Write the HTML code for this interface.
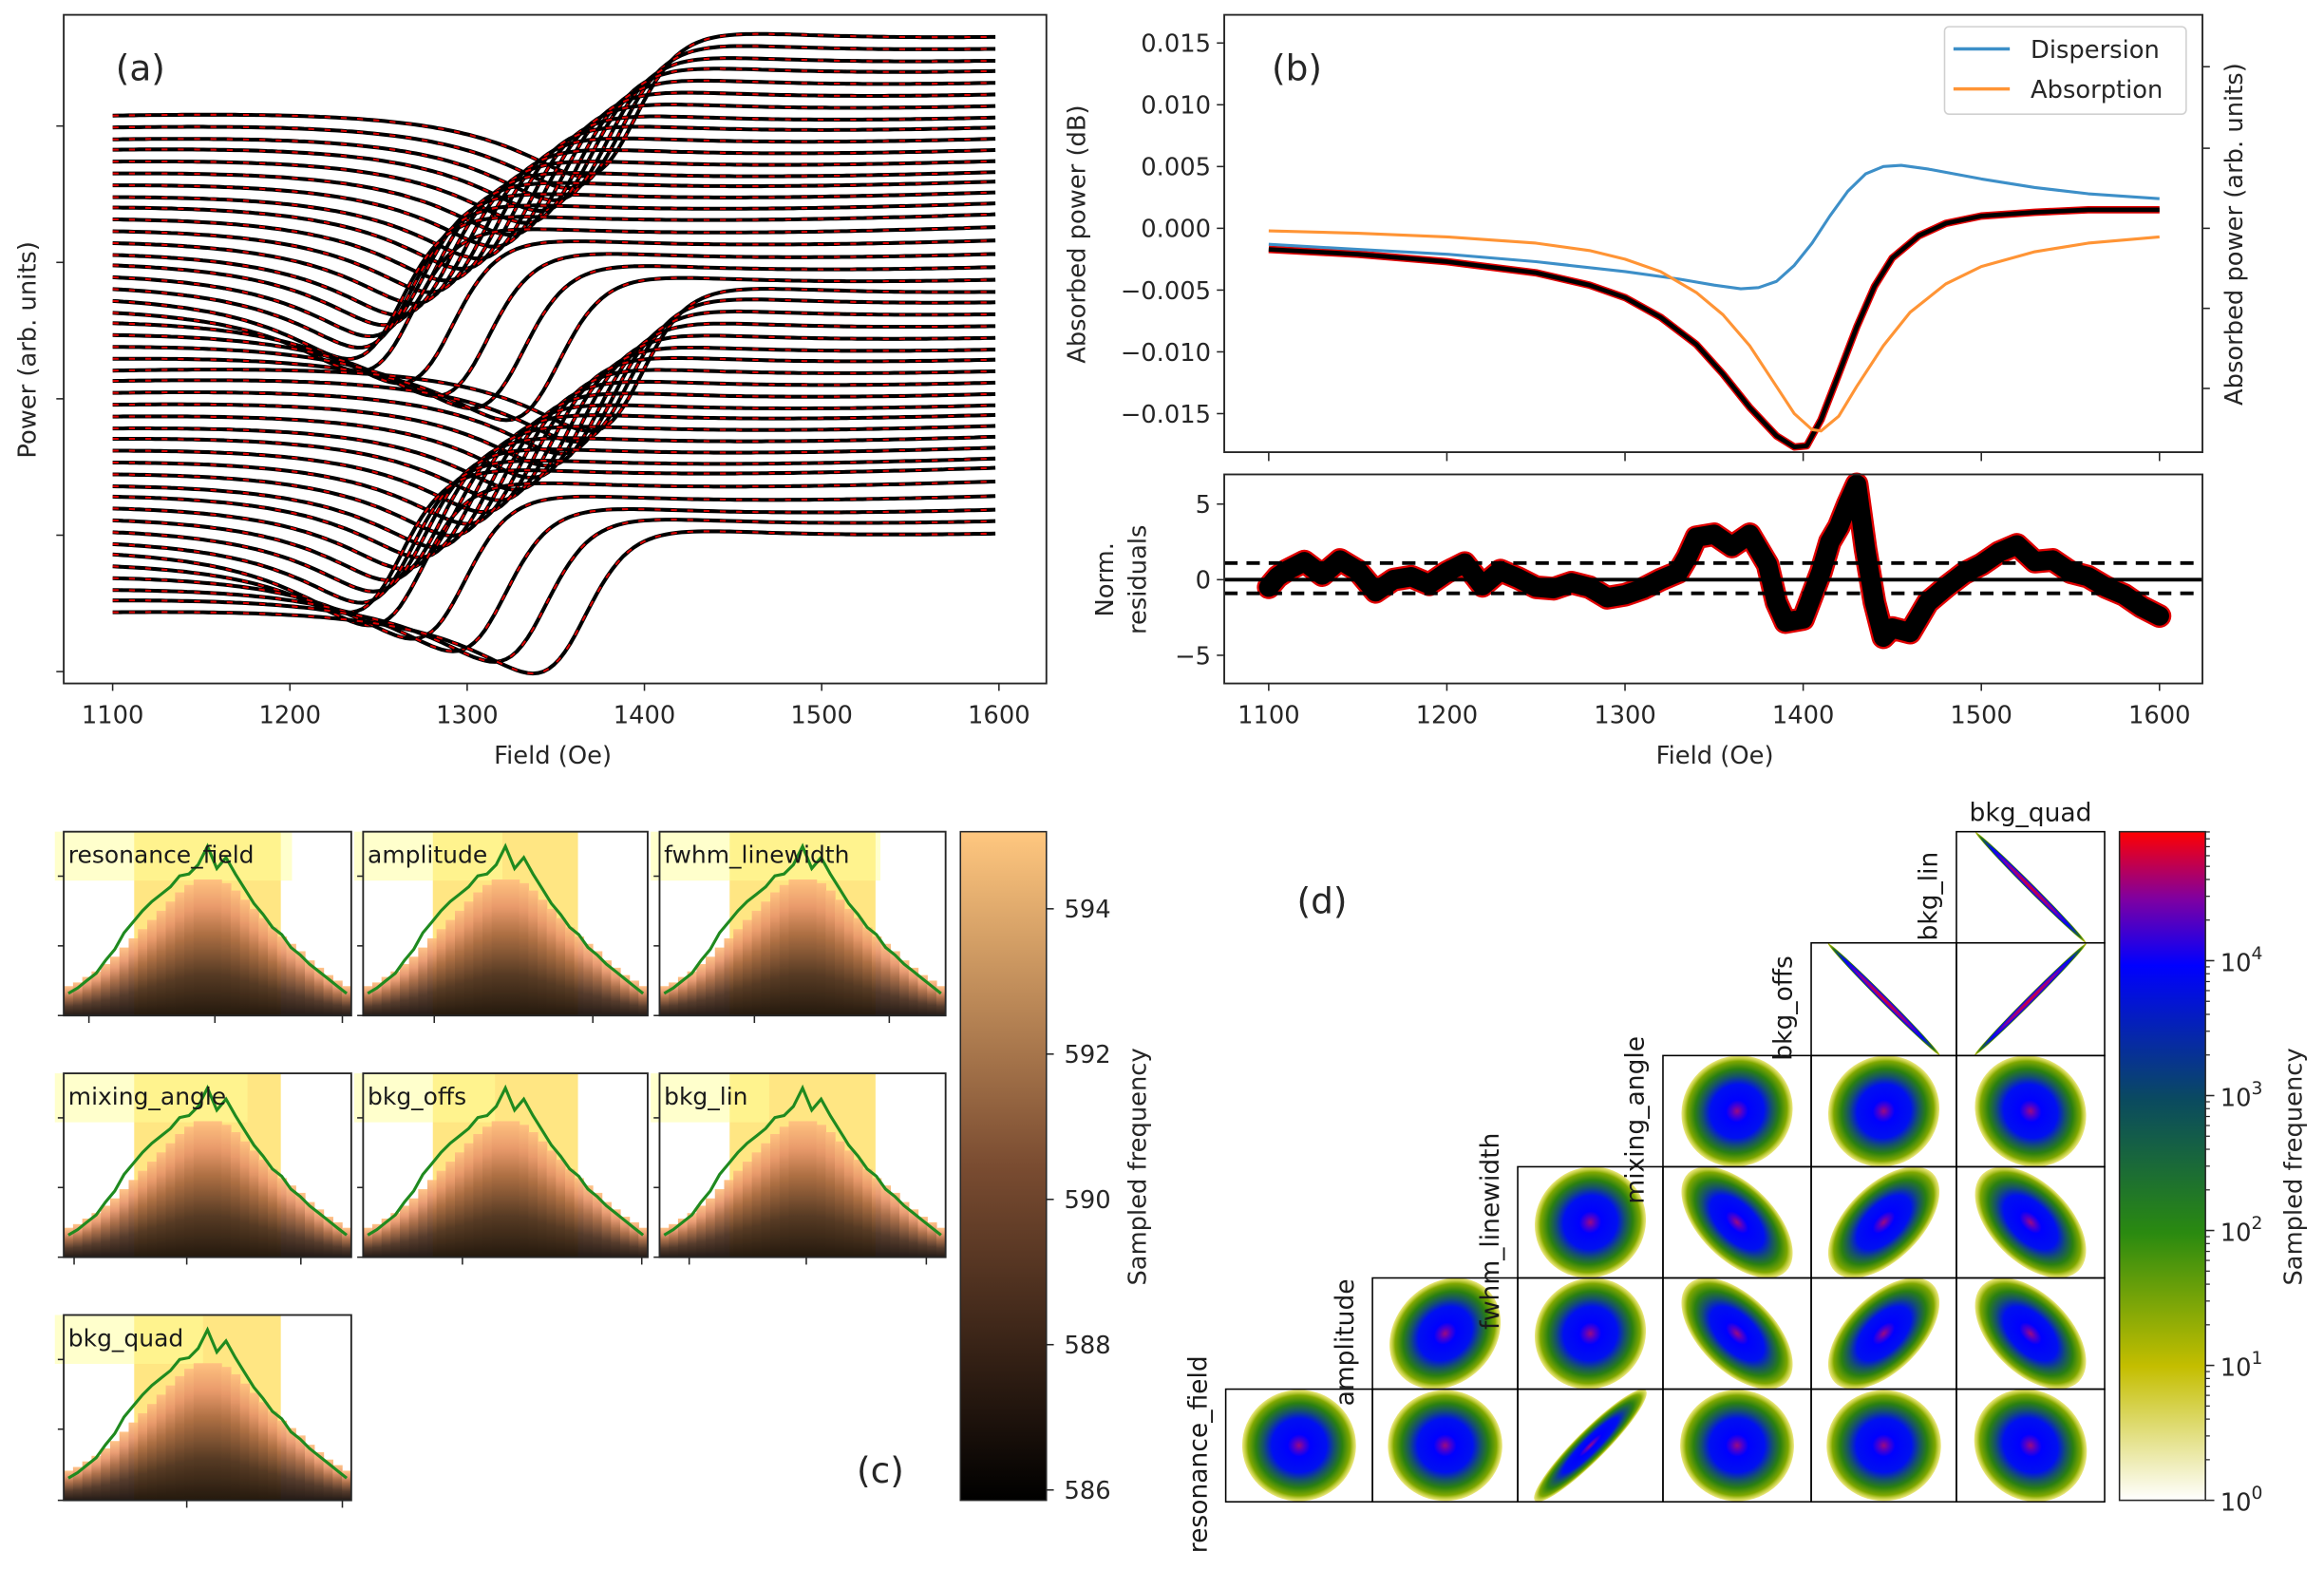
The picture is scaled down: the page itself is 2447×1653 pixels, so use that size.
<!DOCTYPE html>
<html><head><meta charset="utf-8"><style>
html,body{margin:0;padding:0;background:#fff;}
svg{display:block;font-family:"DejaVu Sans","Liberation Sans",sans-serif;}
</style></head><body>
<svg id="fig" xmlns="http://www.w3.org/2000/svg" width="2447" height="1653" viewBox="0 0 1568 1059" preserveAspectRatio="none">
<defs>
<linearGradient id="copperG" x1="0" y1="1" x2="0" y2="0">
<stop offset="0" stop-color="#140a05"/><stop offset="0.3" stop-color="#4a2e1d"/><stop offset="0.6" stop-color="#a8673f"/><stop offset="0.8" stop-color="#e8956a"/><stop offset="1" stop-color="#ffc080"/></linearGradient>
<linearGradient id="copperBar" x1="0" y1="1" x2="0" y2="0">
<stop offset="0" stop-color="#000"/><stop offset="0.5" stop-color="#7a4c31"/><stop offset="1" stop-color="#ffc77f"/></linearGradient>
<linearGradient id="rainbowBar" x1="0" y1="1" x2="0" y2="0">
<stop offset="0" stop-color="#ffffff"/><stop offset="0.2" stop-color="#c4be00"/><stop offset="0.4" stop-color="#2a8a10"/><stop offset="0.6" stop-color="#0a4a60"/><stop offset="0.8" stop-color="#0000ff"/><stop offset="0.9" stop-color="#8000a0"/><stop offset="1" stop-color="#ff0000"/></linearGradient>
<radialGradient id="blob" cx="0.5" cy="0.5" r="0.5">
<stop offset="0" stop-color="#9a0a80"/><stop offset="0.1" stop-color="#4a00d0"/><stop offset="0.2" stop-color="#0000ff"/><stop offset="0.48" stop-color="#0010f0"/><stop offset="0.62" stop-color="#145070"/><stop offset="0.76" stop-color="#2a8010"/><stop offset="0.9" stop-color="#80a800"/><stop offset="1" stop-color="#d8d000" stop-opacity="0.5"/></radialGradient>
<radialGradient id="blobThin" cx="0.5" cy="0.5" r="0.5">
<stop offset="0" stop-color="#e00020"/><stop offset="0.45" stop-color="#8000a0"/><stop offset="0.7" stop-color="#0000ff"/><stop offset="0.9" stop-color="#1a7020"/><stop offset="1" stop-color="#c0c000"/></radialGradient>
</defs>
</svg>
<script>
const NS='http://www.w3.org/2000/svg';
const svg=document.getElementById('fig');
function mk(tag,attrs,name,parent){
  const el=document.createElementNS(NS,tag);
  for(const k in attrs) el.setAttribute(k,attrs[k]);
  
  
  (parent||svg).appendChild(el);
  return el;
}
function txt(x,y,s,size,name,extra){
  const a=Object.assign({x:x,y:y,'font-size':size,fill:'#262626'},extra||{});
  const t=mk('text',a,name);
  t.textContent=s;
  return t;
}

/* ---------------- Panel (a) data ---------------- */
const aResonance=[1388,1380,1372,1364,1356,1347,1338,1329,1320,1311,1302,1293,1284,1276,1268,1262,1256,1262,1285,1305,1325,1345,
                  1392,1384,1376,1368,1359,1350,1341,1332,1323,1314,1305,1296,1287,1278,1270,1263,1256,1268,1292,1315,1338,1360];
const aStartLevel=[78,86,94,101,109,117,125,133,140,148,156,164,172,179,187,195,203,211,218,226,234,242,
                   250,257,265,273,281,289,296,304,312,320,328,335,343,351,359,367,374,382,390,398,405,413];
const aFieldTicks=[1100,1200,1300,1400,1500,1600];
const aAmp=90, aWidth=38;

/* ---------------- Panel (b) data ---------------- */
const bFieldMeas=[1100,1150,1200,1250,1280,1300,1320,1340,1355,1370,1385,1395,1402,1410,1420,1430,1440,1450,1465,1480,1500,1530,1560,1600];
const bMeas=[-0.0017,-0.0021,-0.0027,-0.0036,-0.0046,-0.0056,-0.0072,-0.0094,-0.0118,-0.0145,-0.0168,-0.0177,-0.0176,-0.0155,-0.0118,-0.0080,-0.0047,-0.0024,-0.0006,0.0004,0.0010,0.0013,0.0015,0.0015];
const bFieldDisp=[1100,1150,1200,1250,1300,1330,1350,1365,1375,1385,1395,1405,1415,1425,1435,1445,1455,1470,1500,1530,1560,1600];
const bDisp=[-0.0013,-0.0017,-0.0021,-0.0027,-0.0035,-0.0041,-0.0046,-0.0049,-0.0048,-0.0043,-0.0030,-0.0012,0.0010,0.0030,0.0044,0.0050,0.0051,0.0048,0.0040,0.0033,0.0028,0.0024];
const bFieldAbs=[1100,1150,1200,1250,1280,1300,1320,1340,1355,1370,1385,1395,1405,1410,1420,1430,1445,1460,1480,1500,1530,1560,1600];
const bAbs=[-0.0002,-0.0004,-0.0007,-0.0012,-0.0018,-0.0025,-0.0035,-0.0052,-0.0070,-0.0095,-0.0128,-0.0150,-0.0163,-0.0164,-0.0152,-0.0128,-0.0095,-0.0068,-0.0045,-0.0031,-0.0019,-0.0012,-0.0007];
const bYTicks=[0.015,0.010,0.005,0.000,-0.005,-0.010,-0.015];
const bYTickLabels=['0.015','0.010','0.005','0.000','\u22120.005','\u22120.010','\u22120.015'];
const rField=[1100,1105,1110,1120,1130,1140,1150,1160,1170,1180,1190,1200,1210,1220,1230,1240,1250,1260,1270,1280,1290,1300,1310,1320,1330,1335,1340,1350,1360,1370,1380,1385,1390,1400,1410,1415,1420,1425,1430,1435,1440,1445,1450,1460,1470,1480,1490,1500,1510,1520,1530,1540,1550,1560,1570,1580,1590,1600];
const rVal=[-0.5,0.2,0.6,1.2,0.3,1.3,0.6,-0.8,0,0.2,-0.3,0.5,1.1,-0.4,0.6,0.1,-0.5,-0.6,-0.2,-0.5,-1.2,-1.0,-0.6,0,0.5,1.5,2.8,3.0,2.2,3.0,1.0,-1.5,-2.8,-2.6,0.5,2.5,3.5,5.0,6.3,2.0,-1.5,-3.8,-3.2,-3.5,-1.5,-0.5,0.4,1.0,1.8,2.3,1.2,1.3,0.5,0.2,-0.5,-1.0,-1.8,-2.4];
const rYTicks=[5,0,-5];
const rYTickLabels=['5','0','\u22125'];

/* ---------------- Panel (c) data ---------------- */
const cParams=['resonance_field','amplitude','fwhm_linewidth','mixing_angle','bkg_offs','bkg_lin','bkg_quad'];
const cBins=[0.16,0.18,0.21,0.24,0.28,0.32,0.37,0.42,0.47,0.52,0.57,0.62,0.67,0.71,0.74,0.74,0.74,0.72,0.68,0.63,0.58,0.53,0.48,0.43,0.39,0.35,0.30,0.26,0.22,0.19,0.16];
const cGreen=[0.12,0.15,0.19,0.23,0.30,0.36,0.45,0.51,0.57,0.62,0.66,0.70,0.76,0.77,0.82,0.92,0.80,0.86,0.77,0.69,0.61,0.55,0.48,0.44,0.37,0.33,0.28,0.24,0.20,0.16,0.12];
const cBarTicks=[586,588,590,592,594];

/* ---------------- Panel (d) data ---------------- */
const dParams=['resonance_field','amplitude','fwhm_linewidth','mixing_angle','bkg_offs','bkg_lin'];
const dCorr=[[0.02,0.03,0.93,0.02,0.03,-0.1],
             [null,0.2,0.05,-0.55,0.55,-0.5],
             [null,null,0.05,-0.55,0.55,-0.5],
             [null,null,null,0.05,0.05,-0.08],
             [null,null,null,null,-0.998,0.998],
             [null,null,null,null,null,-0.998]];
const dBarExps=[0,1,2,3,4];

/* ===== Panel (a) ===== */
const aL=43,aR=706,aT=10,aB=461;
const xA=h=>76+(h-1100)*(674-76)/500;
mk('rect',{x:aL,y:aT,width:aR-aL,height:aB-aT,fill:'none',stroke:'#262626','stroke-width':1.2},'panel-a-frame');
const gA=mk('g',{},'panel-a-traces');
for(let i=0;i<aResonance.length;i++){
  const Hr=aResonance[i];
  const off=(h)=>{const x=h-Hr;const D=aWidth*x/(x*x+aWidth*aWidth);const L=aWidth*aWidth/(x*x+aWidth*aWidth);return aAmp*(0.87*D-0.5*L);};
  const o0=off(1100);
  let pts=[];
  for(let h=1100;h<=1600;h+=3){
    const y=aStartLevel[i]-30*(h-1100)/500-(off(h)-o0);
    pts.push(xA(h).toFixed(1)+','+y.toFixed(1));
  }
  const p=pts.join(' ');
  const l1=mk('polyline',{points:p,fill:'none',stroke:'#000','stroke-width':2.6,'stroke-linejoin':'round'},'data-trace',gA);
  
  const l2=mk('polyline',{points:p,fill:'none',stroke:'#e00000','stroke-width':1.3,'stroke-dasharray':'4 7'},'fit-trace',gA);
  
}
aFieldTicks.forEach(t=>{
  mk('line',{x1:xA(t),x2:xA(t),y1:aB,y2:aB+5,stroke:'#262626','stroke-width':1},'x-tick-a');
  txt(xA(t),aB+27,String(t),16.5,'x-tick-label-a',{'text-anchor':'middle'});
});
[85,177,269,361,453].forEach(y=>mk('line',{x1:aL-5,x2:aL,y1:y,y2:y,stroke:'#262626','stroke-width':1},'y-tick-a'));
txt(373,515,'Field (Oe)',16.5,'x-axis-title-a',{'text-anchor':'middle'});
txt(0,0,'Power (arb. units)',16.5,'y-axis-title-a',{'text-anchor':'middle',transform:'translate(24,236) rotate(-90)'});
txt(78,54,'(a)',24,'panel-label-a');

/* ===== Panel (b) ===== */
const bL=826,bR=1486,bT=10,bB=305;
const xB=h=>856+(h-1100)*(1457-856)/500;
const yB=v=>154-v*8333;
const poly=(xs,ys,fx,fy)=>xs.map((x,i)=>fx(x).toFixed(1)+','+fy(ys[i]).toFixed(1)).join(' ');
mk('polyline',{points:poly(bFieldMeas,bMeas,xB,yB),fill:'none',stroke:'#e00000','stroke-width':5,'stroke-linejoin':'round'},'fit-curve-b');
mk('polyline',{points:poly(bFieldMeas,bMeas,xB,yB),fill:'none',stroke:'#000','stroke-width':3,'stroke-linejoin':'round'},'measured-curve-b');
mk('polyline',{points:poly(bFieldDisp,bDisp,xB,yB),fill:'none',stroke:'#3d8fc8','stroke-width':2,'stroke-linejoin':'round'},'dispersion-curve');
mk('polyline',{points:poly(bFieldAbs,bAbs,xB,yB),fill:'none',stroke:'#ff9435','stroke-width':2,'stroke-linejoin':'round'},'absorption-curve');
mk('rect',{x:bL,y:bT,width:bR-bL,height:bB-bT,fill:'none',stroke:'#262626','stroke-width':1.2},'panel-b-frame');
bYTicks.forEach((v,i)=>{
  mk('line',{x1:bL-5,x2:bL,y1:yB(v),y2:yB(v),stroke:'#262626','stroke-width':1},'y-tick-b');
  txt(bL-9,yB(v)+6,bYTickLabels[i],16.5,'y-tick-label-b',{'text-anchor':'end'});
});
[45,100,154,208,262].forEach(y=>mk('line',{x1:bR,x2:bR+5,y1:y,y2:y,stroke:'#262626','stroke-width':1},'right-y-tick-b'));
aFieldTicks.forEach(t=>mk('line',{x1:xB(t),x2:xB(t),y1:bB,y2:bB+6,stroke:'#262626','stroke-width':1},'x-tick-b'));
txt(0,0,'Absorbed power (dB)',16.5,'y-axis-title-b',{'text-anchor':'middle',transform:'translate(732,158) rotate(-90)'});
txt(0,0,'Absorbed power (arb. units)',16.5,'right-y-axis-title-b',{'text-anchor':'middle',transform:'translate(1513,158) rotate(-90)'});
txt(858,54,'(b)',24,'panel-label-b');
const leg=mk('g',{},'legend-b');
mk('rect',{x:1312,y:18,width:163,height:59,rx:3,fill:'#fff','fill-opacity':0.85,stroke:'#d0d0d0','stroke-width':1},'legend-frame',leg);
mk('line',{x1:1318,x2:1356,y1:33,y2:33,stroke:'#3d8fc8','stroke-width':2.2},'legend-swatch-dispersion',leg);
mk('line',{x1:1318,x2:1356,y1:60,y2:60,stroke:'#ff9435','stroke-width':2.2},'legend-swatch-absorption',leg);
txt(1370,39,'Dispersion',16.5,'legend-label-dispersion');
txt(1370,66,'Absorption',16.5,'legend-label-absorption');

/* residuals */
const rL=826,rR=1486,rT=320,rB=461;
const yR=v=>391-v*10.2;
mk('polyline',{points:poly(rField,rVal,xB,yR),fill:'none',stroke:'#e00000','stroke-width':16,'stroke-linejoin':'round','stroke-linecap':'round'},'residual-outline');
mk('polyline',{points:poly(rField,rVal,xB,yR),fill:'none',stroke:'#000','stroke-width':13,'stroke-linejoin':'round','stroke-linecap':'round'},'residual-points');
mk('line',{x1:rL,x2:rR,y1:yR(0),y2:yR(0),stroke:'#000','stroke-width':2.5},'zero-line');
mk('line',{x1:rL,x2:rR,y1:yR(1.1),y2:yR(1.1),stroke:'#000','stroke-width':2.5,'stroke-dasharray':'9 6'},'upper-sigma-line');
mk('line',{x1:rL,x2:rR,y1:yR(-0.9),y2:yR(-0.9),stroke:'#000','stroke-width':2.5,'stroke-dasharray':'9 6'},'lower-sigma-line');
mk('rect',{x:rL,y:rT,width:rR-rL,height:rB-rT,fill:'none',stroke:'#262626','stroke-width':1.2},'residual-frame');
rYTicks.forEach((v,i)=>{
  mk('line',{x1:rL-5,x2:rL,y1:yR(v),y2:yR(v),stroke:'#262626','stroke-width':1},'y-tick-r');
  txt(rL-9,yR(v)+6,rYTickLabels[i],16.5,'y-tick-label-r',{'text-anchor':'end'});
});
aFieldTicks.forEach(t=>{
  mk('line',{x1:xB(t),x2:xB(t),y1:rB,y2:rB+5,stroke:'#262626','stroke-width':1},'x-tick-r');
  txt(xB(t),rB+27,String(t),16.5,'x-tick-label-r',{'text-anchor':'middle'});
});
txt(1157,515,'Field (Oe)',16.5,'x-axis-title-b',{'text-anchor':'middle'});
txt(0,0,'Norm.',16.5,'y-axis-title-r1',{'text-anchor':'middle',transform:'translate(751,391) rotate(-90)'});
txt(0,0,'residuals',16.5,'y-axis-title-r2',{'text-anchor':'middle',transform:'translate(773,391) rotate(-90)'});

/* ===== Panel (c) ===== */
const cCols=[[43,237],[245,437],[445,638]];
const cRows=[[561,685],[724,848],[887,1012]];
const cLabelW=[160,100,155,130,95,80,100];
const cBottomTicks=[[60,145,231],[293,400],[509,600],[50,126,203],[312,433],[465,544,625],[126,231]];
cParams.forEach((name,k)=>{
  const col=k%3,row=Math.floor(k/3);
  const L=cCols[col][0],R=cCols[col][1],T=cRows[row][0],B=cRows[row][1];
  const W=R-L,H=B-T;
  const g=mk('g',{},'hist-'+name);
  mk('rect',{x:L+W*0.245,y:T,width:W*0.51,height:H,fill:'#ffd630','fill-opacity':0.6},'credible-interval-band',g);
  mk('rect',{x:L-6,y:T,width:cLabelW[k],height:33,fill:'#ffff99','fill-opacity':0.5},'label-box',g);
  const n=cBins.length,bw=W/n;
  const gb=mk('g',{opacity:0.93},'hist-bars',g);
  cBins.forEach((v,j)=>{
    const b=mk('rect',{x:(L+j*bw).toFixed(2),y:(B-v*H).toFixed(2),width:(bw+0.4).toFixed(2),height:(v*H).toFixed(2),fill:'url(#copperG)'},'hist-bar',gb);
    
  });
  const gp=cGreen.map((v,j)=>(L+(j+0.5)*bw).toFixed(1)+','+(B-v*H).toFixed(1)).join(' ');
  mk('polyline',{points:gp,fill:'none',stroke:'#1f8a1f','stroke-width':2},'posterior-line',g);
  mk('rect',{x:L,y:T,width:W,height:H,fill:'none',stroke:'#262626','stroke-width':1.2},'hist-frame',g);
  [T+30,T+77,B].forEach(y=>mk('line',{x1:L-4,x2:L,y1:y,y2:y,stroke:'#262626','stroke-width':1},'hist-y-tick',g));
  cBottomTicks[k].forEach(x=>mk('line',{x1:x,x2:x,y1:B,y2:B+5,stroke:'#262626','stroke-width':1},'hist-x-tick',g));
  txt(L+3,T+21,name,16,'hist-label-'+name,{fill:'#1a1a1a'});
});
mk('rect',{x:648,y:561,width:58,height:451,fill:'url(#copperBar)',stroke:'#262626','stroke-width':1},'colorbar-c');
const ycb=v=>1005-(v-586)*(1005-613)/8;
cBarTicks.forEach(v=>{
  mk('line',{x1:706,x2:711,y1:ycb(v),y2:ycb(v),stroke:'#262626','stroke-width':1},'colorbar-c-tick');
  txt(718,ycb(v)+6,String(v),16.5,'colorbar-c-tick-label');
});
txt(0,0,'Sampled frequency',16.5,'colorbar-c-title',{'text-anchor':'middle',transform:'translate(773,787) rotate(-90)'});
txt(578,1000,'(c)',24,'panel-label-c');

/* ===== Panel (d) ===== */
const dX=[827,926,1024,1122,1222,1320,1420];
const dY=[937,862,787,712,636,561];
const dRowB=[1013,937,862,787,712,636];
const gD=mk('g',{},'corner-plot');
for(let r=0;r<6;r++){
  for(let c=r;c<6;c++){
    const rho=dCorr[r][c];
    const L=dX[c],R=dX[c+1],T=dY[r],B=dRowB[r];
    const cx=(L+R)/2,cy=(T+B)/2,s=Math.min(R-L,B-T);
    const cell=mk('g',{},'corner-cell',gD);
    
    const a=Math.abs(rho);
    let rx,ry,fill='url(#blob)';
    if(a>0.99){rx=s*0.7;ry=2.4;fill='url(#blobThin)';}
    else{rx=s*0.5*Math.sqrt(1+a);ry=s*0.5*Math.sqrt(1-a);}
    const ang=a<0.04?0:(rho>0?-45:45);
    mk('ellipse',{cx:cx,cy:cy,rx:rx.toFixed(1),ry:ry.toFixed(1),fill:fill,transform:'rotate('+ang+' '+cx+' '+cy+')'},'density-blob',cell);
    mk('rect',{x:L,y:T,width:R-L,height:B-T,fill:'none',stroke:'#000','stroke-width':1},'corner-cell-frame',cell);
  }
  const lx=dX[r]-13,ly=(dY[r]+dRowB[r])/2;
  txt(0,0,dParams[r],17,'corner-row-label-'+dParams[r],{'text-anchor':'middle',fill:'#1a1a1a',transform:'translate('+lx+','+(ly+6)+') rotate(-90)'});
}
txt(1370,554,'bkg_quad',17,'corner-col-label-bkg_quad',{'text-anchor':'middle',fill:'#1a1a1a'});
mk('rect',{x:1430,y:561,width:58,height:451,fill:'url(#rainbowBar)',stroke:'#262626','stroke-width':1},'colorbar-d');
const ycd=e=>1012-e*91;
dBarExps.forEach(e=>{
  mk('line',{x1:1488,x2:1494,y1:ycd(e),y2:ycd(e),stroke:'#262626','stroke-width':1},'colorbar-d-tick');
  const t=txt(1498,ycd(e)+7,'10',16.5,'colorbar-d-tick-label');
  const sp=document.createElementNS(NS,'tspan');
  sp.setAttribute('dy','-8');
  sp.setAttribute('font-size','12');
  sp.textContent=String(e);
  t.appendChild(sp);
  for(let m=2;m<10;m++){
    const y=ycd(e+Math.log10(m));
    if(y>561) mk('line',{x1:1488,x2:1491,y1:y,y2:y,stroke:'#262626','stroke-width':0.8},'colorbar-d-minor-tick');
  }
});
txt(0,0,'Sampled frequency',16.5,'colorbar-d-title',{'text-anchor':'middle',transform:'translate(1553,787) rotate(-90)'});
txt(875,616,'(d)',24,'panel-label-d');
</script>
</body></html>
